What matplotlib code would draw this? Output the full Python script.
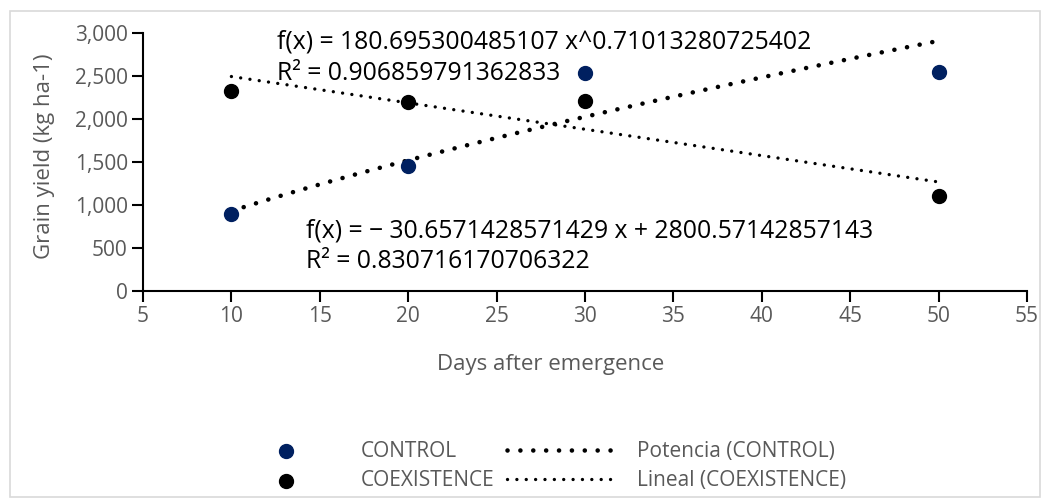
import numpy as np
import matplotlib.pyplot as plt
from matplotlib.patches import Rectangle

days = [10, 20, 30, 50]
control = [890, 1450, 2530, 2550]
coexistence = [2320, 2200, 2210, 1100]

eq_power = "f(x) = 180.695300485107 x^0.71013280725402\nR² = 0.906859791362833"
eq_linear = "f(x) = − 30.6571428571429 x + 2800.57142857143\nR² = 0.830716170706322"

plt.rcParams['font.family'] = ['Open Sans', 'DejaVu Sans']
gray = '#595959'
navy = '#002060'

# trend lines fitted from the data
x = np.array(days, dtype=float)
b, ln_a = np.polyfit(np.log(x), np.log(control), 1)
xs = np.linspace(10, 50, 100)
power_fit = np.exp(ln_a) * xs ** b
m, c = np.polyfit(x, coexistence, 1)
lin_fit = m * xs + c

fig = plt.figure(figsize=(10.44, 4.98), dpi=100)
ax = fig.add_axes([143 / 1044, 1 - 291 / 498, (1027 - 143) / 1044, (291 - 33) / 498])

h1 = ax.scatter(days, control, s=100, color=navy, zorder=3, label='CONTROL')
h2 = ax.scatter(days, coexistence, s=100, color='black', zorder=3, label='COEXISTENCE')
h3, = ax.plot(xs, power_fit, color='black', lw=3.3, linestyle=(0, (0.01, 2.8)),
              dash_capstyle='round', label='Potencia (CONTROL)')
h4, = ax.plot(xs, lin_fit, color='black', lw=2.4, linestyle=(0, (0.01, 2.8)),
              dash_capstyle='round', label='Lineal (COEXISTENCE)')

ax.set_xlim(5, 55)
ax.set_ylim(0, 3000)
ax.set_xticks(range(5, 56, 5))
ax.set_yticks(range(0, 3001, 500))
ax.yaxis.set_major_formatter(plt.FuncFormatter(lambda v, p: f"{int(v):,}"))
for s in ['top', 'right']:
    ax.spines[s].set_visible(False)
for s in ['left', 'bottom']:
    ax.spines[s].set_linewidth(1.5)
ax.tick_params(direction='out', length=8, width=1.5, labelsize=15, labelcolor=gray, pad=3)
ax.set_xlabel("Days after emergence", fontsize=16, color=gray)
ax.set_ylabel("Grain yield (kg ha-1)", fontsize=16, color=gray)
ax.xaxis.set_label_coords((551 - 143) / 884, (291 - 354) / 258)
ax.yaxis.set_label_coords((55 - 143) / 884, (291 - 156) / 258)

ax.text(12.6, 3035, eq_power, fontsize=17.8, va='top', ha='left', linespacing=1.3)
ax.text(14.2, 845, eq_linear, fontsize=17.8, va='top', ha='left', linespacing=1.3)

fig.legend(handles=[h1, h2, h3, h4], ncol=2, frameon=False, fontsize=15,
           loc='center left', bbox_to_anchor=(232 / 1044, 1 - 466 / 498),
           labelcolor=gray, handlelength=5.2, columnspacing=0.6, labelspacing=0.4,
           handletextpad=1.0, borderpad=0, borderaxespad=0)

fig.patches.append(Rectangle((10 / 1044, 1 / 498), 1030 / 1044, 486 / 498,
                             transform=fig.transFigure, fill=False,
                             edgecolor='#d9d9d9', lw=1.2))

fig.savefig("out.png", dpi=100)
